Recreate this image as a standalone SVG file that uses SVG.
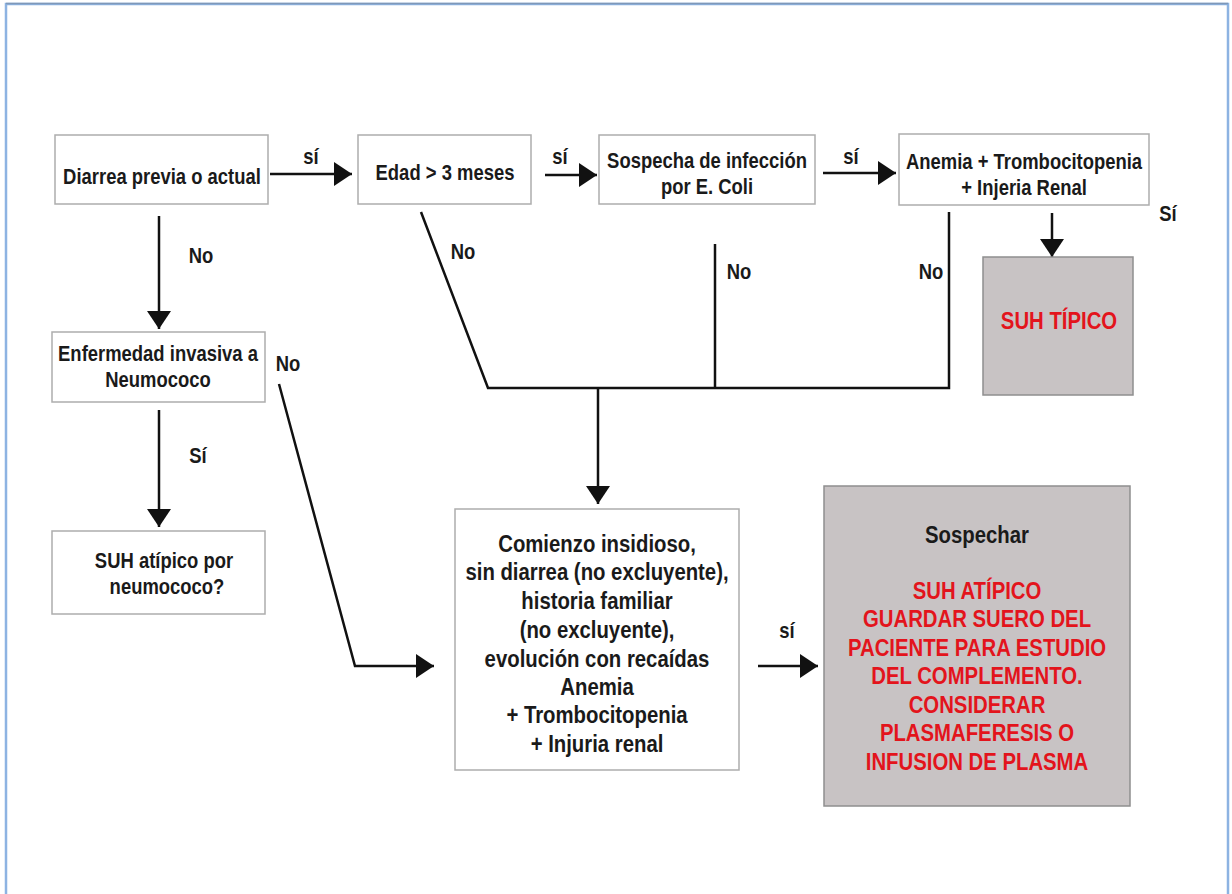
<svg xmlns="http://www.w3.org/2000/svg" width="1232" height="894" viewBox="0 0 1232 894">
  <defs>
    <style>
      text { font-family: "Liberation Sans", Arial, sans-serif; font-weight: bold; font-size: 22.5px; fill: #1a1a1a; text-anchor: middle; }
      .L { font-size: 24.5px; }
      .red { fill: #e3141c; }
      .box { fill: #ffffff; stroke: #adadad; stroke-width: 1.5; }
      .gbox { fill: #c8c3c4; stroke: #8f8f8f; stroke-width: 1.5; }
      .ln { fill: none; stroke: #111; stroke-width: 2.5; }
    </style>
    <marker id="ah" markerUnits="userSpaceOnUse" markerWidth="19" markerHeight="24" refX="18" refY="12" orient="auto">
      <path d="M0,0 L18,12 L0,24 Z" fill="#111"/>
    </marker>
  </defs>
  <rect width="1232" height="894" fill="#ffffff"/>
  <g id="frame">
    <path d="M6,894 L6,4 L1228,4 L1228,894" fill="none" stroke="#8db3e2" stroke-width="2.5"/>
    <line x1="6" y1="3.5" x2="1228" y2="3.5" stroke="#7f98b8" stroke-width="1.5"/>
  </g>

  <g id="connectors">
    <line class="ln" x1="270" y1="174" x2="352" y2="174" marker-end="url(#ah)"/>
    <line class="ln" x1="545" y1="175" x2="597" y2="175" marker-end="url(#ah)"/>
    <line class="ln" x1="823" y1="173" x2="896" y2="173" marker-end="url(#ah)"/>
    <line class="ln" x1="1052" y1="213" x2="1052" y2="257" marker-end="url(#ah)"/>
    <line class="ln" x1="159" y1="216" x2="159" y2="329" marker-end="url(#ah)"/>
    <line class="ln" x1="159" y1="410" x2="159" y2="527" marker-end="url(#ah)"/>
    <polyline class="ln" points="279,384 355,666 434,666" marker-end="url(#ah)"/>
    <polyline class="ln" points="421,212 488,388 949,388 949,212"/>
    <line class="ln" x1="715" y1="244" x2="715" y2="388"/>
    <line class="ln" x1="598" y1="388" x2="598" y2="504" marker-end="url(#ah)"/>
    <line class="ln" x1="758" y1="666" x2="818" y2="666" marker-end="url(#ah)"/>
    <text transform="translate(311,164) scale(0.82,1)">sí</text>
    <text transform="translate(560,164) scale(0.82,1)">sí</text>
    <text transform="translate(851,164) scale(0.82,1)">sí</text>
    <text transform="translate(1168,221) scale(0.82,1)">Sí</text>
    <text transform="translate(201,263) scale(0.82,1)">No</text>
    <text transform="translate(288,371) scale(0.82,1)">No</text>
    <text transform="translate(198,463) scale(0.82,1)">Sí</text>
    <text transform="translate(463,259) scale(0.82,1)">No</text>
    <text transform="translate(739,279) scale(0.82,1)">No</text>
    <text transform="translate(931,279) scale(0.82,1)">No</text>
    <text transform="translate(787,638) scale(0.82,1)">sí</text>
  </g>

  <g id="n-diarrea">
    <rect class="box" x="55" y="135" width="213" height="69"/>
    <text transform="translate(162,184) scale(0.82,1)">Diarrea previa o actual</text>
  </g>
  <g id="n-edad">
    <rect class="box" x="358" y="135" width="173" height="69"/>
    <text transform="translate(445,180) scale(0.82,1)">Edad &gt; 3 meses</text>
  </g>
  <g id="n-sospecha">
    <rect class="box" x="599" y="135" width="216" height="69"/>
    <text transform="translate(707,168) scale(0.82,1)">Sospecha de infección</text>
    <text transform="translate(707,194) scale(0.82,1)">por E. Coli</text>
  </g>
  <g id="n-anemia">
    <rect class="box" x="899" y="134" width="250" height="71"/>
    <text transform="translate(1024,169) scale(0.82,1)">Anemia + Trombocitopenia</text>
    <text transform="translate(1024,195) scale(0.82,1)">+ Injeria Renal</text>
  </g>
  <g id="n-suh-tipico">
    <rect class="gbox" x="983" y="257" width="150" height="138"/>
    <text class="L red" transform="translate(1059,329) scale(0.83,1)">SUH TÍPICO</text>
  </g>
  <g id="n-enfermedad">
    <rect class="box" x="52" y="332" width="213" height="70"/>
    <text transform="translate(158,361) scale(0.82,1)">Enfermedad invasiva a</text>
    <text transform="translate(158,387) scale(0.82,1)">Neumococo</text>
  </g>
  <g id="n-suh-neumo">
    <rect class="box" x="52" y="531" width="213" height="83"/>
    <text transform="translate(164,568) scale(0.82,1)">SUH atípico por</text>
    <text transform="translate(167,594) scale(0.82,1)">neumococo?</text>
  </g>
  <g id="n-comienzo">
    <rect class="box" x="455" y="509" width="284" height="261"/>
    <text class="L" transform="translate(597,552) scale(0.83,1)">Comienzo insidioso,</text>
    <text class="L" transform="translate(597,580) scale(0.83,1)">sin diarrea (no excluyente),</text>
    <text class="L" transform="translate(597,609) scale(0.83,1)">historia familiar</text>
    <text class="L" transform="translate(597,638) scale(0.83,1)">(no excluyente),</text>
    <text class="L" transform="translate(597,667) scale(0.83,1)">evolución con recaídas</text>
    <text class="L" transform="translate(597,695) scale(0.83,1)">Anemia</text>
    <text class="L" transform="translate(597,723) scale(0.83,1)">+ Trombocitopenia</text>
    <text class="L" transform="translate(597,752) scale(0.83,1)">+ Injuria renal</text>
  </g>
  <g id="n-sospechar">
    <rect class="gbox" x="824" y="486" width="306" height="320"/>
    <text class="L" transform="translate(977,543) scale(0.83,1)">Sospechar</text>
    <text class="L red" transform="translate(977,599) scale(0.83,1)">SUH ATÍPICO</text>
    <text class="L red" transform="translate(977,627) scale(0.83,1)">GUARDAR SUERO DEL</text>
    <text class="L red" transform="translate(977,656) scale(0.83,1)">PACIENTE PARA ESTUDIO</text>
    <text class="L red" transform="translate(977,684) scale(0.83,1)">DEL COMPLEMENTO.</text>
    <text class="L red" transform="translate(977,713) scale(0.83,1)">CONSIDERAR</text>
    <text class="L red" transform="translate(977,741) scale(0.83,1)">PLASMAFERESIS O</text>
    <text class="L red" transform="translate(977,770) scale(0.83,1)">INFUSION DE PLASMA</text>
  </g>
</svg>
